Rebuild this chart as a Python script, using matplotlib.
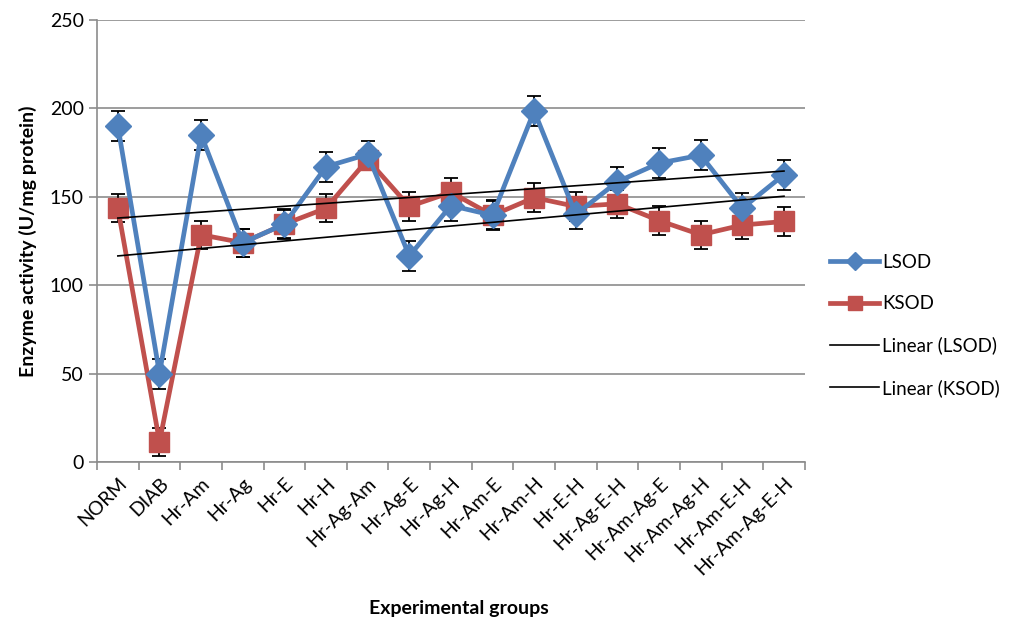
import numpy as np
import matplotlib
matplotlib.use("Agg")
import matplotlib.pyplot as plt
from matplotlib.ticker import FixedLocator, NullFormatter

plt.rcParams['font.family'] = ['Lato', 'DejaVu Sans']

# ---- data ----
groups = ["NORM", "DIAB", "Hr-Am", "Hr-Ag", "Hr-E", "Hr-H", "Hr-Ag-Am", "Hr-Ag-E",
          "Hr-Ag-H", "Hr-Am-E", "Hr-Am-H", "Hr-E-H", "Hr-Ag-E-H", "Hr-Am-Ag-E",
          "Hr-Am-Ag-H", "Hr-Am-E-H", "Hr-Am-Ag-E-H"]

lsod = [190, 50, 185, 124, 134.5, 167, 174, 116.5, 145, 139.5, 198.5, 140, 158.5, 169, 173.5, 143.5, 162.5]
lsod_err = [8.5, 8.5, 8.5, 8, 8.5, 8.5, 7.5, 8.7, 8.5, 8.5, 8.5, 8, 8.5, 8.5, 8.5, 8.5, 8.5]
ksod = [143.5, 11.5, 128.5, 124, 134.5, 143.5, 171, 144.5, 152.5, 139.5, 149.5, 144.5, 146, 136.5, 128.5, 134, 136]
ksod_err = [8, 8, 8, 8, 8, 8, 5.5, 8, 8, 8, 8, 8, 8, 8, 8, 8, 8]

LBLUE = "#4F81BD"
KRED = "#C0504D"

fig = plt.figure(figsize=(10.14, 6.21), dpi=100)
ax = fig.add_axes([0.0957, 0.256, 0.698, 0.712])

n = len(groups)
x = np.arange(n)

ax.errorbar(x, lsod, yerr=lsod_err, fmt="none", ecolor="black", elinewidth=1.3,
            capsize=5, capthick=1.3, zorder=2)
ax.errorbar(x, ksod, yerr=ksod_err, fmt="none", ecolor="black", elinewidth=1.3,
            capsize=5, capthick=1.3, zorder=2)

l1, = ax.plot(x, lsod, color=LBLUE, lw=3.4, marker="D", ms=13, mfc=LBLUE, mec=LBLUE,
              label="LSOD", zorder=4)
l2, = ax.plot(x, ksod, color=KRED, lw=3.4, marker="s", ms=14, mfc=KRED, mec=KRED,
              label="KSOD", zorder=3)

# linear trend lines
p1 = np.polyfit(x, lsod, 1)
p2 = np.polyfit(x, ksod, 1)
t1, = ax.plot(x, np.polyval(p1, x), color="black", lw=1.2, label="Linear (LSOD)", zorder=5)
t2, = ax.plot(x, np.polyval(p2, x), color="black", lw=1.2, label="Linear (KSOD)", zorder=5)

ax.set_xlim(-0.5, n - 0.5)
ax.set_ylim(0, 250)
ax.set_yticks(np.arange(0, 251, 50))
ax.yaxis.grid(True, color="#8c8c8c", lw=1.2)
ax.set_axisbelow(True)

ax.set_xticks(x)
ax.set_xticklabels(groups, rotation=45, ha="right", rotation_mode="anchor", fontsize=14)
ax.tick_params(axis="x", which="major", length=0, pad=9)
ax.xaxis.set_minor_locator(FixedLocator(np.arange(-0.5, n, 1)))
ax.xaxis.set_minor_formatter(NullFormatter())
ax.tick_params(axis="x", which="minor", length=6, color="#8c8c8c", width=1.2)
ax.tick_params(axis="y", length=6, color="#8c8c8c", width=1.2, labelsize=14)

for s in ["top", "right"]:
    ax.spines[s].set_visible(False)
for s in ["left", "bottom"]:
    ax.spines[s].set_color("#8c8c8c")
    ax.spines[s].set_linewidth(1.2)

ax.set_ylabel("Enzyme activity (U/mg protein)", fontsize=14, fontweight="bold", labelpad=9)
fig.text(0.453, 0.012, "Experimental groups", ha="center", fontsize=14, fontweight="bold")

fig.legend(handles=[l1, l2, t1, t2], loc="center left", bbox_to_anchor=(0.806, 0.476),
           frameon=False, fontsize=13.5, labelspacing=1.3, handlelength=2.6,
           handletextpad=0.15, markerscale=0.72, borderpad=0.2)

fig.savefig("out.png", dpi=100)
